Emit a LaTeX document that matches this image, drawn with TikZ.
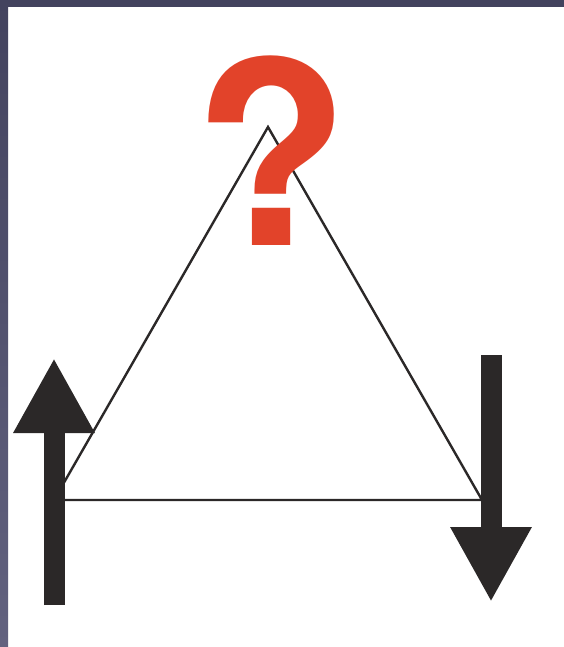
\documentclass[tikz,border=0pt]{standalone}
\usepackage{fontspec}
\setmainfont{TeX Gyre Heros}
\usetikzlibrary{arrows.meta}
\definecolor{ink}{HTML}{2B2828}
\definecolor{quest}{HTML}{E2432A}
\definecolor{slate}{HTML}{43435E}
\definecolor{slatelt}{HTML}{62627F}

\begin{document}
\begin{tikzpicture}[x=1pt,y=-1pt,
              spin/.style={ink,line width=21pt,-{Triangle[width=76pt,length=75pt]}},
              edge/.style={ink,line width=2.4pt,line join=miter}]
              \useasboundingbox (0,0) rectangle (564,647);
              \fill[white] (0,0) rectangle (564,647);
              % frame
              \shade[top color=slate,bottom color=slatelt] (0,0) rectangle (8,647);
              \fill[slate] (0,0) rectangle (564,7);
              % triangle
              \coordinate (top) at (268,127);
              \coordinate (lft) at (54,500);
              \coordinate (rgt) at (482,500);
              \draw[edge] (lft) -- (top) -- (rgt) -- cycle;
              \node[text=quest,font=\fontsize{255}{255}\selectfont\bfseries,inner sep=0,anchor=base] (q) at (271,245) {?};
              % spins
              \coordinate (up0) at (54,605);
              \coordinate (up1) at (54,358);
              \coordinate (dn0) at (491,355);
              \coordinate (dn1) at (491,602);
              \draw[spin] (up0) -- (up1);
              \draw[spin] (dn0) -- (dn1);
            \end{tikzpicture}
\end{document}
